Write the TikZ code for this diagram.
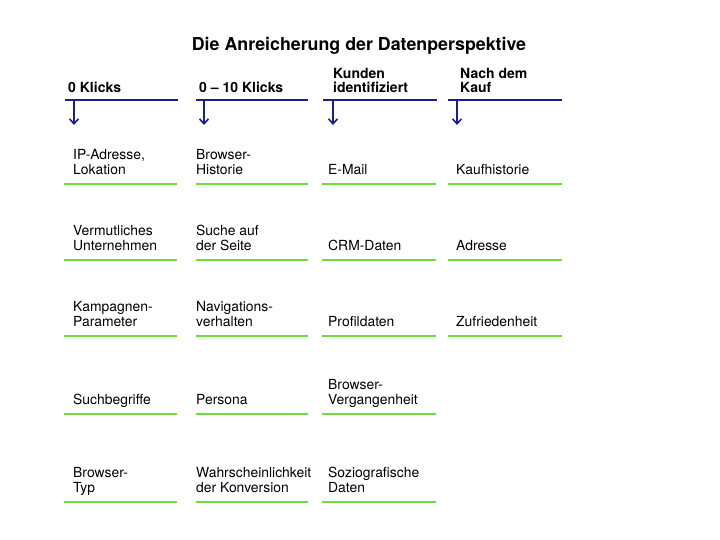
\documentclass[tikz,border=0pt]{standalone}
\usepackage{fontspec}
\setmainfont{TeX Gyre Heros}
\usetikzlibrary{arrows.meta}
\definecolor{navy}{RGB}{30,30,135}
\definecolor{leaf}{RGB}{110,222,60}
\tikzset{
  title/.style={anchor=base, inner sep=0pt, font=\fontsize{17.8}{20}\selectfont\bfseries},
  head/.style={anchor=south west, align=left, inner sep=0pt, text depth=0pt,
    font=\fontsize{14}{14.5}\selectfont\bfseries},
  cell/.style={anchor=south west, align=left, inner sep=0pt, text depth=0pt,
    font=\fontsize{13.9}{15}\selectfont},
  rail/.style={navy, line width=2pt},
  under/.style={leaf, line width=2.4pt},
  drop/.style={navy, line width=1.6pt, -{Straight Barb[length=5pt,width=9pt]}}
}

\begin{document}
\begin{tikzpicture}[x=1pt,y=-1pt]
\useasboundingbox (0,0) rectangle (720,540);
\node[title] (title) at (359,51) {Die Anreicherung der Datenperspektive};
% phases
\foreach \c/\xl/\xr/\xh/\xa/\txt in {1/65/178/68/74/{0 Klicks},
    2/196/308/199/204/{0 -- 10 Klicks}, 3/323/437/333/333/{Kunden\\identifiziert},
    4/448/562/460/457/{Nach dem\\Kauf}}{
  \node[head] (h\c) at (\xh,93) {\txt};
  \coordinate (a\c) at (\xa,100);
  \coordinate (b\c) at (\xa,125);
  \draw[rail] (\xl,100) -- (\xr,100);
  \draw[drop] (a\c) -- (b\c);
}
% data per phase
\foreach \r/\txt in {1/{IP-Adresse,\\Lokation}, 2/{Vermutliches\\Unternehmen},
    3/{Kampagnen-\\Parameter}, 4/Suchbegriffe, 5/{Browser-\\Typ}}{
  \pgfmathsetmacro\gy{{184,260,336,414,502}[\r-1]}
  \node[cell] (k1-\r) at (73,\gy-9.5) {\txt};
  \draw[under] (64,\gy) -- (177,\gy);
}
\foreach \r/\txt in {1/{Browser-\\Historie}, 2/{Suche auf\\der Seite},
    3/{Navigations-\\verhalten}, 4/Persona, 5/{Wahrscheinlichkeit\\der Konversion}}{
  \pgfmathsetmacro\gy{{184,260,336,414,502}[\r-1]}
  \node[cell] (k2-\r) at (196,\gy-9.5) {\txt};
  \draw[under] (196,\gy) -- (308,\gy);
}
\foreach \r/\txt in {1/E-Mail, 2/CRM-Daten, 3/Profildaten,
    4/{Browser-\\Vergangenheit}, 5/{Soziografische\\Daten}}{
  \pgfmathsetmacro\gy{{184,260,336,414,502}[\r-1]}
  \node[cell] (k3-\r) at (328,\gy-9.5) {\txt};
  \draw[under] (322,\gy) -- (436,\gy);
}
\foreach \r/\txt in {1/Kaufhistorie, 2/Adresse, 3/Zufriedenheit}{
  \pgfmathsetmacro\gy{{184,260,336,414,502}[\r-1]}
  \node[cell] (k4-\r) at (456,\gy-9.5) {\txt};
  \draw[under] (448,\gy) -- (562,\gy);
}
\end{tikzpicture}
\end{document}
